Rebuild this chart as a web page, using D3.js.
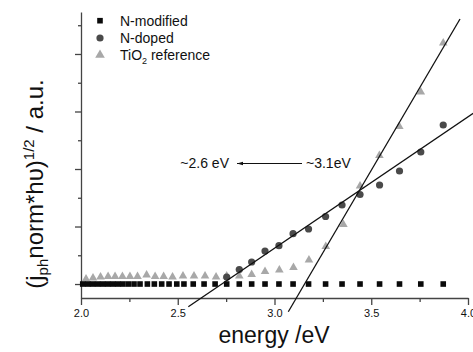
<!DOCTYPE html>
<html>
<head>
<meta charset="utf-8">
<script src="https://cdn.jsdelivr.net/npm/d3@7"></script>
<style>
  body { margin: 0; background: #fff; }
  svg text { font-family: Arial, "Liberation Sans", sans-serif; }
</style>
</head>
<body>
<div id="chart"></div>
<script>
// photocurrent data (energy in eV, value in a.u.)
var nModE = [2.009, 2.035, 2.060, 2.086, 2.112, 2.138, 2.164, 2.190, 2.216, 2.244, 2.274, 2.305, 2.343, 2.379, 2.417, 2.455, 2.495, 2.532, 2.580, 2.636, 2.693, 2.753, 2.818, 2.882, 2.951, 3.023, 3.096, 3.176, 3.264, 3.349, 3.442, 3.543, 3.646, 3.756, 3.872];
var nModV = [0, 0, 0, 0, 0, 0, 0, 0, 0, 0, 0, 0, 0, 0, 0, 0, 0, 0, 0, 0, 0, 0, 0, 0, 0, 0, 0, 0, 0, 0, 0, 0, 0, 0, 0];

var nDopE = [2.753, 2.818, 2.882, 2.951, 3.023, 3.096, 3.176, 3.264, 3.349, 3.442, 3.543, 3.646, 3.756, 3.872];
var nDopV = [0.12, 0.252, 0.383, 0.574, 0.666, 0.875, 0.957, 1.174, 1.374, 1.557, 1.722, 1.965, 2.296, 2.765];

var tioE = [2.026, 2.062, 2.101, 2.140, 2.176, 2.214, 2.253, 2.292, 2.339, 2.383, 2.427, 2.473, 2.527, 2.584, 2.641, 2.698, 2.753, 2.818, 2.882, 2.951, 3.025, 3.098, 3.178, 3.265, 3.356, 3.442, 3.542, 3.645, 3.756, 3.872];
var tioV = [0.087, 0.104, 0.122, 0.13, 0.13, 0.13, 0.13, 0.13, 0.157, 0.13, 0.13, 0.122, 0.139, 0.139, 0.139, 0.122, 0.139, 0.139, 0.165, 0.217, 0.243, 0.287, 0.417, 0.652, 1.035, 1.704, 2.235, 2.739, 3.339, 4.191];

// linear fits (end points)
var fitNdoped = [[2.5545, -0.395], [4.027, 2.969]];
var fitTiO2 = [[3.0713, -0.482], [3.9587, 4.609]];

var xMajor = [2.0, 2.5, 3.0, 3.5, 4.0];
var xMinor = [2.25, 2.75, 3.25, 3.75];
var yMajor = [0, 1, 2, 3, 4];
var yMinor = [0.5, 1.5, 2.5, 3.5, 4.5];

var W = 473, H = 352;

var svg = d3.select("#chart").append("svg")
    .attr("width", W)
    .attr("height", H);

var x = d3.scaleLinear().domain([2, 4]).range([81, 468]);
var y = d3.scaleLinear().domain([-0.243, 4.73]).range([298, 12]);

var axisColor = "#444";

// x axis
var gx = svg.append("g").attr("transform", "translate(0,298)");
gx.call(d3.axisBottom(x).tickValues(xMajor).tickSize(7).tickSizeOuter(0).tickPadding(4)
    .tickFormat(d3.format(".1f")));
gx.append("g").call(d3.axisBottom(x).tickValues(xMinor).tickSize(4).tickFormat(""))
  .select(".domain").remove();
gx.selectAll("path, line").attr("stroke", axisColor).attr("stroke-width", 1.3);
gx.selectAll("text").attr("fill", "#111").style("font-size", "11px");

// y axis, no labels
var gy = svg.append("g").attr("transform", "translate(81,0)");
gy.call(d3.axisLeft(y).tickValues(yMajor).tickSize(6).tickSizeOuter(0).tickFormat(""));
gy.append("g").call(d3.axisLeft(y).tickValues(yMinor).tickSize(3).tickFormat(""))
  .select(".domain").remove();
gy.selectAll("path, line").attr("stroke", axisColor).attr("stroke-width", 1.3);

// axis titles
svg.append("text")
    .attr("x", 274).attr("y", 343)
    .attr("text-anchor", "middle")
    .style("font-size", "23px")
    .attr("fill", "#111")
    .text("energy /eV");

var yl = svg.append("text")
    .attr("transform", "translate(43,184) rotate(-90)")
    .attr("text-anchor", "middle")
    .style("font-size", "24px")
    .attr("fill", "#111");
yl.append("tspan").text("(j");
yl.append("tspan").attr("dy", 5).style("font-size", "15px").text("ph");
yl.append("tspan").attr("dy", -5).text("norm*h\u03c5)");
yl.append("tspan").attr("dy", -9).style("font-size", "15px").text("1/2");
yl.append("tspan").attr("dy", 9).text(" / a.u.");

// data points
var circ = nDopE.map(function(e, i) { return {e: e, v: nDopV[i]}; });
var tri = tioE.map(function(e, i) { return {e: e, v: tioV[i]}; });
var sq = nModE.map(function(e, i) { return {e: e, v: nModV[i]}; });

var triSym = d3.symbol().type(d3.symbolTriangle).size(32);

svg.selectAll(".tri").data(tri).enter().append("path")
    .attr("class", "tri")
    .attr("d", triSym)
    .attr("transform", function(d) { return "translate(" + x(d.e) + "," + y(d.v) + ")"; })
    .attr("fill", "#a8a8a8");

svg.selectAll(".circ").data(circ).enter().append("circle")
    .attr("class", "circ")
    .attr("cx", function(d) { return x(d.e); })
    .attr("cy", function(d) { return y(d.v); })
    .attr("r", 3.6)
    .attr("fill", "#4a4a4a");

svg.selectAll(".sq").data(sq).enter().append("rect")
    .attr("class", "sq")
    .attr("x", function(d) { return x(d.e) - 2.8; })
    .attr("y", function(d) { return y(d.v) - 2.8; })
    .attr("width", 5.6).attr("height", 5.6)
    .attr("fill", "#0a0a0a");

// fit lines
var line = d3.line().x(function(d) { return x(d[0]); }).y(function(d) { return y(d[1]); });
[fitNdoped, fitTiO2].forEach(function(f) {
  svg.append("path").datum(f)
      .attr("d", line)
      .attr("fill", "none")
      .attr("stroke", "#111")
      .attr("stroke-width", 1.3);
});

// legend
var legend = svg.append("g").attr("transform", "translate(100,0)");
legend.append("rect").attr("x", -2.8).attr("y", 20.7 - 2.8).attr("width", 5.6).attr("height", 5.6).attr("fill", "#0a0a0a");
legend.append("circle").attr("cx", 0).attr("cy", 38).attr("r", 3.6).attr("fill", "#4a4a4a");
legend.append("path").attr("d", d3.symbol().type(d3.symbolTriangle).size(40)())
    .attr("transform", "translate(0,55)").attr("fill", "#a8a8a8");
var lt = [["N-modified", 20.7], ["N-doped", 38]];
lt.forEach(function(t) {
  legend.append("text").attr("x", 20).attr("y", t[1]).attr("dy", "0.35em")
      .style("font-size", "14px").attr("fill", "#111").text(t[0]);
});
var tt = legend.append("text").attr("x", 20).attr("y", 55).attr("dy", "0.35em")
    .style("font-size", "14px").attr("fill", "#111");
tt.append("tspan").text("TiO");
tt.append("tspan").attr("dy", 4).style("font-size", "9px").text("2");
tt.append("tspan").attr("dy", -4).text(" reference");

// annotation arrow
var annY = 163.5;
svg.append("defs").append("marker")
    .attr("id", "head").attr("viewBox", "0 0 10 10")
    .attr("refX", 0).attr("refY", 5)
    .attr("markerWidth", 6).attr("markerHeight", 6)
    .attr("markerUnits", "userSpaceOnUse")
    .attr("orient", "auto")
  .append("path").attr("d", "M0,5L10,2L10,8Z").attr("fill", "#111");
svg.append("line")
    .attr("x1", 237).attr("x2", 302).attr("y1", annY).attr("y2", annY)
    .attr("stroke", "#111").attr("stroke-width", 1.2)
    .attr("marker-start", "url(#head)");
svg.append("text").attr("x", 229).attr("y", annY).attr("dy", "0.35em")
    .attr("text-anchor", "end").style("font-size", "14px").attr("fill", "#111")
    .text("~2.6 eV");
svg.append("text").attr("x", 306).attr("y", annY).attr("dy", "0.35em")
    .style("font-size", "14px").attr("fill", "#111")
    .text("~3.1eV");
</script>
</body>
</html>
